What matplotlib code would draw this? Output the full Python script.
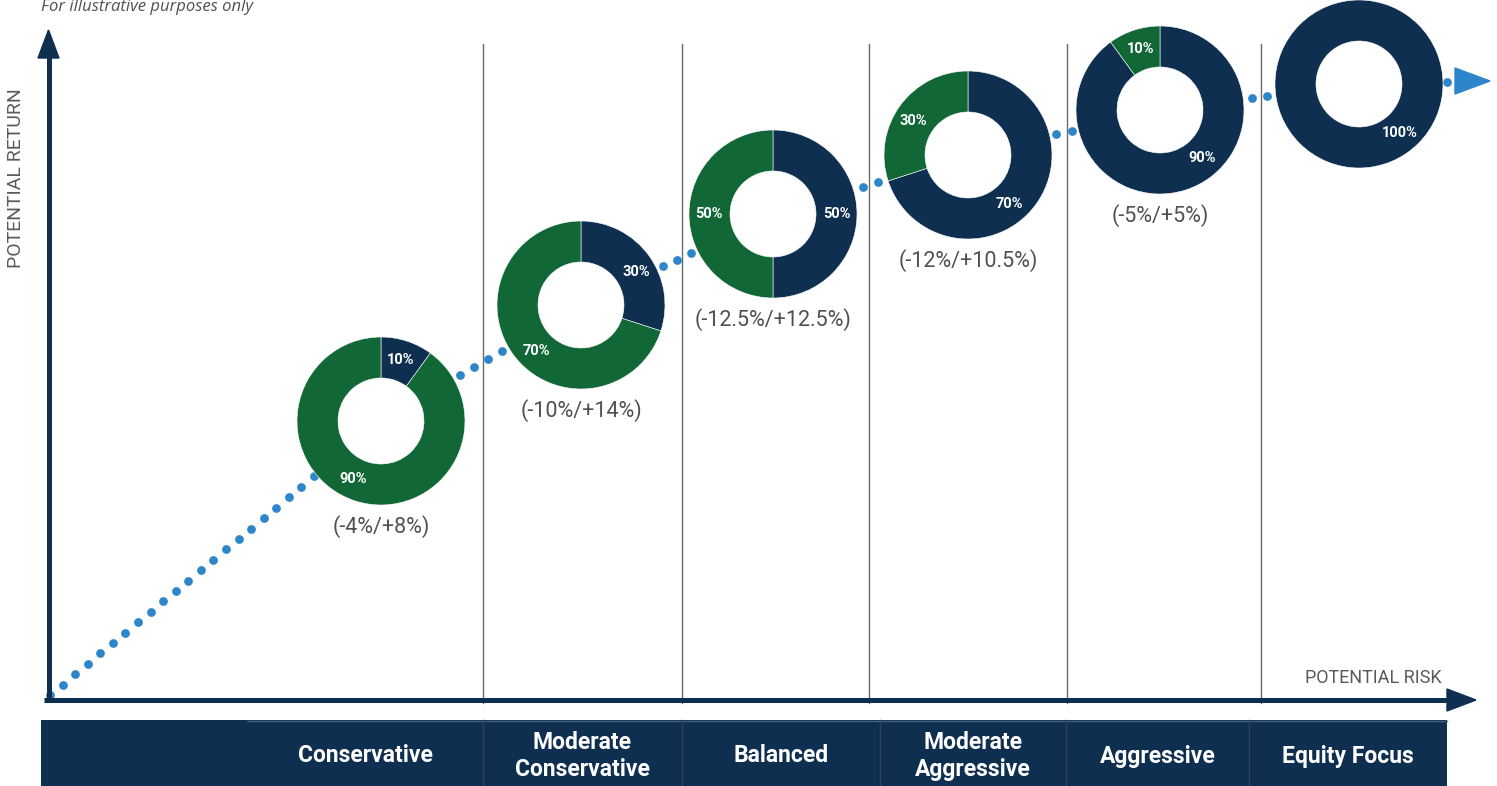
import numpy as np
import matplotlib.pyplot as plt
from matplotlib.patches import Wedge, Rectangle, Polygon
from matplotlib import font_manager

# --- data ---
portfolios = ['Conservative', 'Moderate\nConservative', 'Balanced',
              'Moderate\nAggressive', 'Aggressive', 'Equity Focus']
equity = [10, 30, 50, 70, 90, 100]
fixed_income = [90, 70, 50, 30, 10, 0]
return_ranges = ['(-4%/+8%)', '(-10%/+14%)', '(-12.5%/+12.5%)',
                 '(-12%/+10.5%)', '(-5%/+5%)', '']

# --- layout (pixel space, y grows downward) ---
W, H = 1497, 786
donut_x = [381, 581, 773, 968, 1160, 1359]
donut_y = [421, 305, 214, 155, 110, 84]
R_OUT, R_IN = 84, 43
label_angles = [(18, 206), (59, 224), (90, 270), (140, 302), (139, 342), (140, None)]
LABEL_R = 64
grid_x = [483, 682, 869, 1067, 1261]
band_edges = [41, 247, 483, 682, 880, 1066, 1249, 1447]
origin = (50, 695)
tail_tip = (1490, 81)

NAVY = '#0e2f50'
GREEN = '#116836'
DOT = '#2d86ca'
GREY = '#505050'


def pick_font(candidates):
    names = {f.name for f in font_manager.fontManager.ttflist}
    for c in candidates:
        if c in names:
            return c
    return 'DejaVu Sans'


BOLD_FONT = pick_font(['Roboto', 'Open Sans'])
LIGHT_FONT = pick_font(['Roboto', 'Open Sans'])
ITALIC_FONT = pick_font(['Open Sans', 'Roboto'])


def dots_between(p0, p1, start, stop, spacing, fill=False):
    p0, p1 = np.array(p0, float), np.array(p1, float)
    d = p1 - p0
    L = np.hypot(*d)
    u = d / L
    a, b = start, L - stop
    usable = b - a
    n = int(usable // spacing) + 1
    if fill:
        ts = np.linspace(a, b, n)
    else:
        pad = (usable - (n - 1) * spacing) / 2
        ts = a + pad + spacing * np.arange(n)
    return p0[None, :] + ts[:, None] * u[None, :]


fig = plt.figure(figsize=(W / 100, H / 100), dpi=100)
ax = fig.add_axes([0, 0, 1, 1])
ax.set_xlim(0, W)
ax.set_ylim(H, 0)
ax.axis('off')

# vertical separators
for gx in grid_x:
    ax.plot([gx, gx], [44, 703], color='#6a6a6a', lw=1.0, zorder=1)

# dotted path from origin through the donuts
centers = list(zip(donut_x, donut_y))
pts = [dots_between(origin, centers[0], 0, R_OUT + 3, 16.3, fill=True)]
for c0, c1 in zip(centers[:-1], centers[1:]):
    pts.append(dots_between(c0, c1, R_OUT + 3, R_OUT + 3, 16))
pts.append(dots_between(centers[-1], tail_tip, R_OUT + 4, 42, 16))
pts = np.vstack(pts)
ax.plot(pts[:, 0], pts[:, 1], 'o', color=DOT, ms=6.3, mec='none', zorder=2)
tx, ty = tail_tip
ax.add_patch(Polygon([(tx - 35, ty - 13), (tx - 35, ty + 13), (tx, ty)],
                     closed=True, color=DOT, zorder=2))

# donuts
for i, (cx, cy) in enumerate(centers):
    eq, fi = equity[i], fixed_income[i]
    split = -90 + 360 * eq / 100
    if eq > 0:
        ax.add_patch(Wedge((cx, cy), R_OUT, -90, split, width=R_OUT - R_IN,
                           facecolor=NAVY, edgecolor='white', lw=0.4, zorder=3))
    if fi > 0:
        ax.add_patch(Wedge((cx, cy), R_OUT, split, 270, width=R_OUT - R_IN,
                           facecolor=GREEN, edgecolor='white', lw=0.4, zorder=3))
    for val, ang in zip((eq, fi), label_angles[i]):
        if ang is None or val == 0:
            continue
        a = np.radians(ang)
        ax.text(cx + LABEL_R * np.sin(a), cy - LABEL_R * np.cos(a), f'{val}%',
                color='white', fontsize=10.5, fontweight='bold', family=BOLD_FONT,
                ha='center', va='center', zorder=4)
    if return_ranges[i]:
        ax.text(cx, cy + R_OUT + 22, return_ranges[i], color=GREY, fontsize=15.5,
                family=LIGHT_FONT, ha='center', va='center')

# axes with arrow heads
ax.plot([48.5, 48.5], [702, 56], color=NAVY, lw=3.6, solid_capstyle='butt', zorder=5)
ax.add_patch(Polygon([(38, 58), (59, 58), (48.5, 30)], closed=True, color=NAVY, zorder=5))
ax.plot([44, 1449], [700, 700], color=NAVY, lw=3.6, solid_capstyle='butt', zorder=5)
ax.add_patch(Polygon([(1447, 689), (1447, 711), (1476, 700)], closed=True, color=NAVY, zorder=5))

ax.text(16, 178, 'POTENTIAL RETURN', rotation=90, color='#5a5a5a', fontsize=14,
        family=LIGHT_FONT, ha='center', va='center')
ax.text(1442, 678, 'POTENTIAL RISK', color='#5a5a5a', fontsize=13,
        family=LIGHT_FONT, ha='right', va='center')
ax.text(41, 7, 'For illustrative purposes only', color=GREY, fontsize=12,
        style='italic', family=ITALIC_FONT, ha='left', va='center')

# bottom band with portfolio names
ax.add_patch(Rectangle((band_edges[0], 720), band_edges[-1] - band_edges[0], H - 720,
                       facecolor=NAVY, edgecolor='none', zorder=1))
ax.plot([band_edges[1], band_edges[-1]], [720.5, 720.5], color='#4a6078', lw=1.0, zorder=2)
for bx in band_edges[2:-1]:
    ax.plot([bx, bx], [720, H], color='#2b4561', lw=1.0, zorder=2)
for i, name in enumerate(portfolios):
    x0, x1 = band_edges[i + 1], band_edges[i + 2]
    ax.text((x0 + x1) / 2, 756, name, color='white', fontsize=16.5,
            fontweight='bold', family=BOLD_FONT, ha='center', va='center',
            linespacing=1.2, zorder=3)

fig.savefig('out.png', dpi=100)
